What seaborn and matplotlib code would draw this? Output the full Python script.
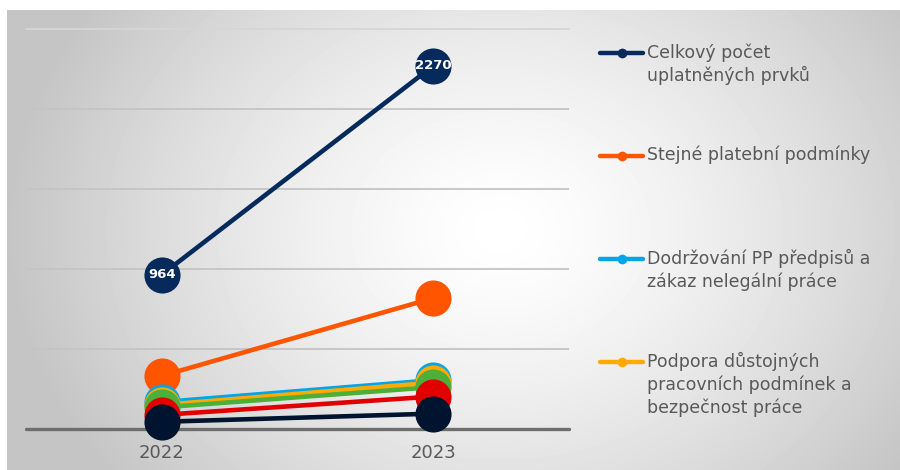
import numpy as np
import pandas as pd
import matplotlib
matplotlib.use("Agg")
import matplotlib.pyplot as plt
from matplotlib.lines import Line2D
from matplotlib.patches import Rectangle
import seaborn as sns


years = [2022, 2023]
series = [
    "Celkový počet uplatněných prvků",
    "Stejné platební podmínky",
    "Dodržování PP předpisů a zákaz nelegální práce",
    "Podpora důstojných pracovních podmínek a bezpečnost práce",
    "Řada 5",
    "Řada 6",
    "Řada 7",
]
values = [
    [964, 2270],
    [332, 818],
    [168, 305],
    [150, 290],
    [135, 262],
    [88, 203],
    [45, 96],
]
colors = ["#062a5c", "#ff5500", "#00a6e8", "#ffaa00", "#4caf3a", "#e00000", "#00132f"]
legend_labels = [
    "Celkový počet\nuplatněných prvků",
    "Stejné platební podmínky",
    "Dodržování PP předpisů a\nzákaz nelegální práce",
    "Podpora důstojných\npracovních podmínek a\nbezpečnost práce",
]

rows = []
for name, vals in zip(series, values):
    for yr, v in zip(years, vals):
        rows.append({"rok": yr, "pocet": v, "rada": name})
df = pd.DataFrame(rows)

sns.set_theme(style="white")
plt.rcParams["font.family"] = ["DejaVu Sans"]

W, H = 900, 470
fig = plt.figure(figsize=(9, 4.7), dpi=100, facecolor="white")

# background gradient
bg = fig.add_axes([7 / W, 0, (W - 7) / W, (H - 10) / H])
bg.set_axis_off()
gx, gy = np.meshgrid(np.arange(7, W), np.arange(10, H))
d = np.sqrt(((gx - 500) / 1.05) ** 2 + ((gy - 230) / 0.85) ** 2)
t = np.clip(d / 470, 0, 1) ** 1.4
gray = 1 - 0.23 * t
bg.imshow(gray, cmap="gray", vmin=0, vmax=1, aspect="auto", interpolation="bilinear")

# lighter legend panel
fig.add_artist(Rectangle((592 / W, (H - 449) / H), (898 - 592) / W, (449 - 36) / H,
                         transform=fig.transFigure, facecolor="white", alpha=0.4,
                         edgecolor="none", zorder=0))

ax = fig.add_axes([26 / W, (H - 429) / H, 543 / W, 400 / H])
ax.set_facecolor("none")

for v in [500, 1000, 1500, 2000]:
    ax.axhline(v, color="#c4c4c4", lw=1.3, zorder=0)
ax.axhline(2500, color="#d6d6d6", lw=1.3, zorder=0, clip_on=False)
ax.axhline(0, color="#6e6e6e", lw=2.4, zorder=1, clip_on=False)

sns.lineplot(data=df, x="rok", y="pocet", hue="rada", hue_order=series,
             palette=colors, marker="o", markersize=26, markeredgewidth=0,
             linewidth=3.3, legend=False, ax=ax, zorder=3, clip_on=False)

navy = values[0]
for yr, v in zip(years, navy):
    ax.text(yr, v, str(v), color="white", fontsize=9.5, fontweight="bold",
            ha="center", va="center", zorder=10)

ax.set_xlim(2021.5, 2023.5)
ax.set_ylim(0, 2500)
ax.set_xticks(years)
ax.set_xticklabels([str(y) for y in years], fontsize=13, color="#595959")
ax.set_yticks([])
ax.tick_params(axis="x", length=0, pad=11)
ax.set_xlabel("")
ax.set_ylabel("")
for s in ax.spines.values():
    s.set_visible(False)

# legend (first four entries, as in the original)
entry_y = [53, 156, 259, 362]
for lab, col, yy in zip(legend_labels, colors, entry_y):
    fy = (H - yy) / H
    fig.add_artist(Line2D([600 / W, 643 / W], [fy, fy], transform=fig.transFigure,
                          color=col, lw=3.2, solid_capstyle="round"))
    fig.add_artist(Line2D([621.5 / W], [fy], transform=fig.transFigure, color=col,
                          marker="o", markersize=7, markeredgewidth=0))
    fig.text(647 / W, (H - yy + 10) / H, lab, fontsize=12.5, color="#595959",
             ha="left", va="top", linespacing=1.3)

fig.savefig("out.png", dpi=100)
